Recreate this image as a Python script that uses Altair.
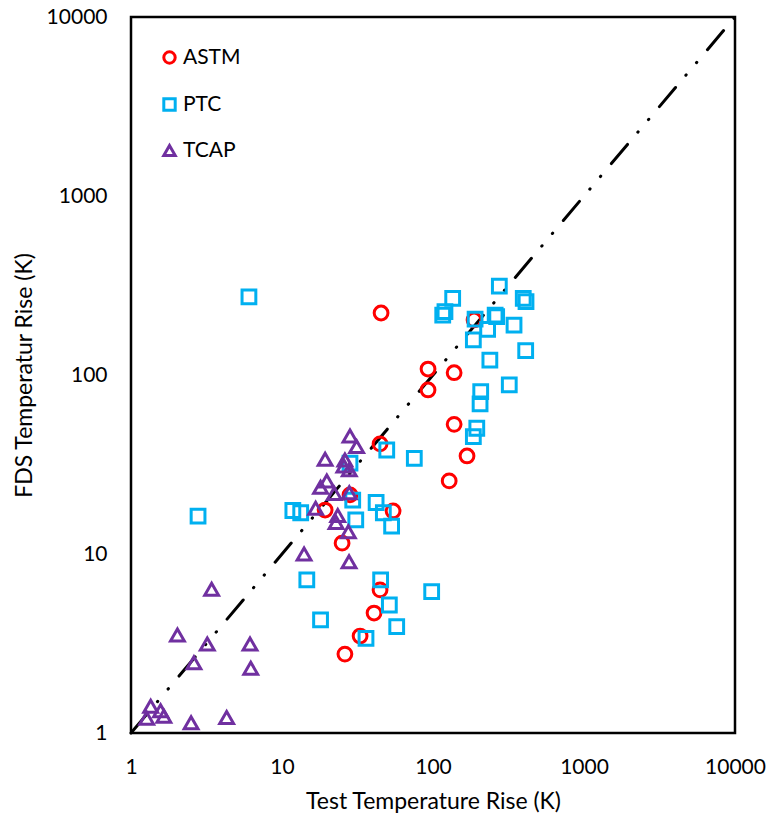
import altair as alt
import pandas as pd

# ---- data ----
astm_x = [45.3, 187, 92.7, 92.7, 138, 138, 168, 128, 44.6, 28.2, 19.3, 54.4, 25, 44.6, 40.7, 32.9, 26.1]
astm_y = [222, 203, 108, 82.5, 103, 53, 35.3, 25.6, 41.2, 21.4, 17.6, 17.4, 11.5, 6.3, 4.68, 3.48, 2.76]

ptc_x = [6.04, 2.78, 11.8, 13.3, 28.2, 29.4, 30.8, 42, 46.9, 53.2, 49.4, 75.2, 14.6, 45, 98, 51.4, 18,
         57.5, 36, 275, 135, 120, 116, 190, 264, 258, 230, 185, 344, 396, 413, 411, 238, 320, 207, 205,
         195, 185]
ptc_y = [273, 16.3, 17.5, 17.0, 32.2, 20.0, 15.5, 19.4, 17.0, 14.3, 38.1, 34.2, 7.16, 7.16, 6.16, 5.19,
         4.28, 3.93, 3.38, 314, 268, 226, 216, 205, 212, 216, 180, 157, 190, 268, 257, 137, 121, 88, 80.7,
         68.9, 50.4, 45.2]

tcap_x = [28.2, 31.2, 19.3, 26.1, 25.7, 27.9, 19.8, 18.0, 22.2, 27.9, 16.7, 23.4, 22.8, 27.5, 14.0, 27.8,
          3.42, 2.03, 3.2, 6.14, 2.61, 6.21, 1.35, 1.57, 1.65, 1.27, 2.50, 4.30]
tcap_y = [45.6, 39.8, 33.8, 33.5, 31.0, 29.5, 25.6, 23.6, 21.8, 22.0, 18.0, 16.4, 15.0, 13.3, 10, 9.06,
          6.35, 3.53, 3.14, 3.14, 2.47, 2.30, 1.41, 1.33, 1.24, 1.21, 1.14, 1.22]

series = ["ASTM", "PTC", "TCAP"]
colors = ["#FF0000", "#00B0F0", "#7030A0"]
shapes = ["circle", "square", "triangle-up"]
ticks = [1, 10, 100, 1000, 10000]
line_x = [1, 10000]
line_y = [1, 10000]

rows = []
for name, xs, ys in [("ASTM", astm_x, astm_y), ("PTC", ptc_x, ptc_y), ("TCAP", tcap_x, tcap_y)]:
    for a, b in zip(xs, ys):
        rows.append({"test": a, "fds": b, "series": name})
pts = pd.DataFrame(rows)
ref = pd.DataFrame({"test": line_x, "fds": line_y})

xscale = alt.Scale(type="log", domain=[1, 10000], nice=False)
yscale = alt.Scale(type="log", domain=[1, 10000], nice=False)

xaxis = alt.Axis(values=ticks, format="d", grid=False, ticks=False, domain=False,
                 labelFont="Lato", labelFontSize=21, labelColor="black", labelPadding=23,
                 title="Test Temperature Rise (K)", titleFont="Lato", titleFontSize=23,
                 titleFontWeight="normal", titleColor="black", titlePadding=13,
                 labelFlush=False, labelOverlap=False)
yaxis = alt.Axis(values=ticks, format="d", grid=False, ticks=False, domain=False,
                 labelFont="Lato", labelFontSize=21, labelColor="black", labelPadding=24,
                 title="FDS Temperatur Rise (K)", titleFont="Lato", titleFontSize=23,
                 titleFontWeight="normal", titleColor="black", titlePadding=10,
                 labelFlush=False, labelOverlap=False)

line = alt.Chart(ref).mark_line(color="black", strokeWidth=3, strokeCap="round",
                                strokeDash=[25, 16, 0.5, 16, 0.5, 16.5]).encode(
    x=alt.X("test:Q", scale=xscale, axis=xaxis),
    y=alt.Y("fds:Q", scale=yscale, axis=yaxis),
)

points = alt.Chart(pts).mark_point(filled=False, strokeWidth=3, opacity=1, size=190).encode(
    x=alt.X("test:Q", scale=xscale, axis=xaxis),
    y=alt.Y("fds:Q", scale=yscale, axis=yaxis),
    color=alt.Color("series:N", scale=alt.Scale(domain=series, range=colors),
                    legend=alt.Legend(title=None, orient="none", legendX=28, legendY=30,
                                      labelFont="Lato", labelFontSize=21, labelColor="black",
                                      symbolSize=130, symbolStrokeWidth=3, rowPadding=22,
                                      labelOffset=3, padding=0, symbolFillColor="transparent")),
    shape=alt.Shape("series:N", scale=alt.Scale(domain=series, range=shapes), legend=None),
)

chart = alt.layer(line, points).properties(
    width=604, height=716,
    autosize=alt.AutoSizeParams(type="none"),
    padding={"left": 131, "top": 17, "right": 36, "bottom": 85},
    background="white",
).configure_view(stroke="black", strokeWidth=2.5)

chart.save("out.html", embed_options={"renderer": "svg", "actions": False})
